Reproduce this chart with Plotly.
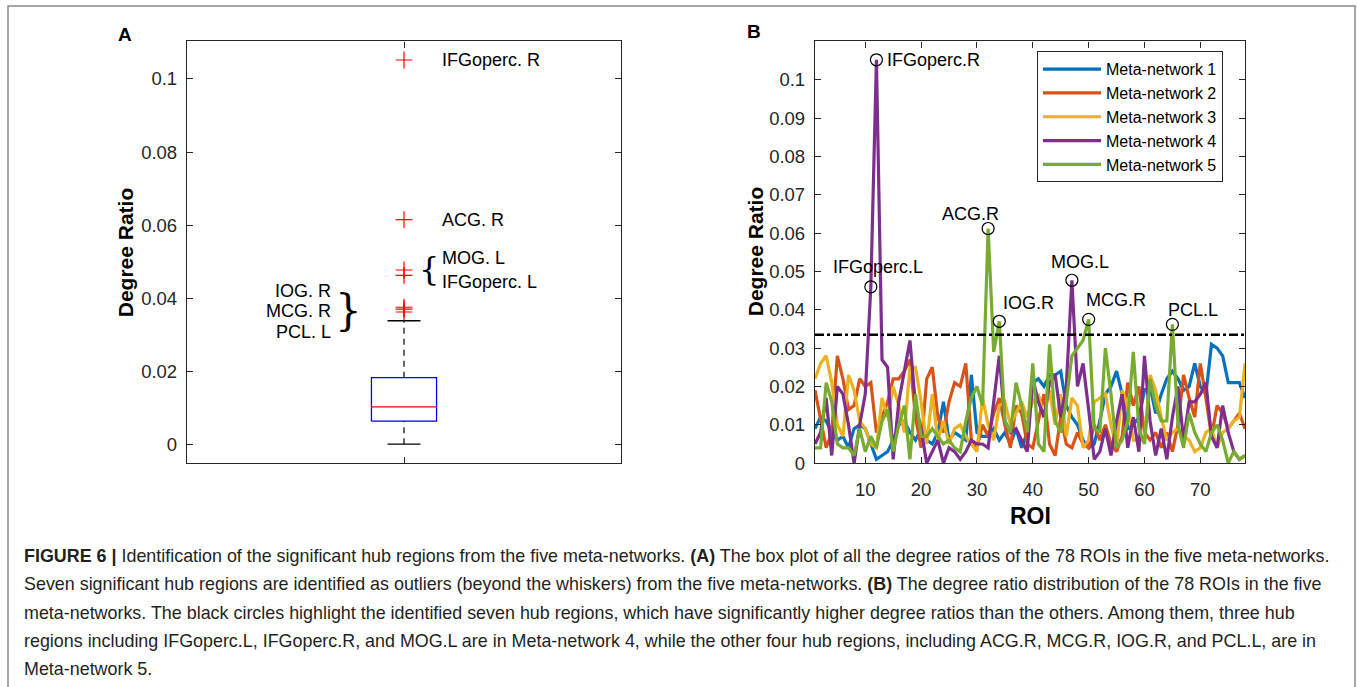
import plotly.graph_objects as go

# ---- data -------------------------------------------------------------
ROI = list(range(1, 79))

MN1 = [0.009, 0.012, 0.011, 0.008, 0.006, 0.007, 0.004, 0.009, 0.010, 0.009,
       0.005, 0.001, 0.002, 0.003, 0.006, 0.010, 0.011, 0.008, 0.006, 0.009,
       0.006, 0.005, 0.008, 0.016, 0.006, 0.008, 0.007, 0.006, 0.023, 0.008,
       0.007, 0.007, 0.009, 0.006, 0.008, 0.005, 0.009, 0.004, 0.008, 0.021,
       0.022, 0.020, 0.023, 0.023, 0.024, 0.015, 0.012, 0.010, 0.006, 0.004,
       0.005, 0.011, 0.018, 0.020, 0.024, 0.018, 0.009, 0.010, 0.012, 0.019,
       0.020, 0.013, 0.018, 0.022, 0.024, 0.022, 0.019, 0.020, 0.026, 0.020,
       0.018, 0.031, 0.030, 0.028, 0.021, 0.021, 0.021, 0.017]
MN2 = [0.019, 0.012, 0.004, 0.008, 0.028, 0.022, 0.014, 0.015, 0.022, 0.020,
       0.021, 0.008, 0.012, 0.016, 0.022, 0.022, 0.024, 0.027, 0.012, 0.004,
       0.022, 0.025, 0.012, 0.008, 0.016, 0.021, 0.020, 0.026, 0.006, 0.004,
       0.010, 0.007, 0.013, 0.017, 0.010, 0.004, 0.015, 0.013, 0.005, 0.004,
       0.011, 0.018, 0.005, 0.002, 0.012, 0.005, 0.004, 0.008, 0.005, 0.004,
       0.010, 0.006, 0.010, 0.005, 0.003, 0.007, 0.021, 0.015, 0.020, 0.008,
       0.006, 0.008, 0.004, 0.008, 0.003, 0.010, 0.023, 0.017, 0.012, 0.026,
       0.017, 0.007, 0.015, 0.013, 0.009, 0.011, 0.013, 0.009]
MN3 = [0.022, 0.026, 0.028, 0.021, 0.010, 0.007, 0.023, 0.019, 0.011, 0.009,
       0.005, 0.004, 0.017, 0.012, 0.020, 0.015, 0.008, 0.025, 0.025, 0.016,
       0.005, 0.018, 0.006, 0.011, 0.005, 0.009, 0.010, 0.007, 0.005, 0.003,
       0.017, 0.010, 0.006, 0.015, 0.016, 0.010, 0.013, 0.016, 0.012, 0.016,
       0.018, 0.012, 0.019, 0.010, 0.018, 0.007, 0.017, 0.015, 0.004, 0.006,
       0.016, 0.017, 0.018, 0.010, 0.004, 0.019, 0.015, 0.006, 0.006, 0.006,
       0.023, 0.019, 0.012, 0.006, 0.008, 0.009, 0.007, 0.006, 0.003, 0.004,
       0.008, 0.009, 0.004, 0.008, 0.009, 0.011, 0.012, 0.026]
MN4 = [0.005, 0.008, 0.017, 0.002, 0.020, 0.018, 0.010, 0.000, 0.010, 0.018,
       0.046, 0.1052, 0.027, 0.025, 0.001, 0.016, 0.024, 0.032, 0.015, 0.009,
       0.000, 0.003, 0.006, 0.000, 0.004, 0.003, 0.001, 0.003, 0.006, 0.005,
       0.005, 0.004, 0.016, 0.028, 0.011, 0.008, 0.009, 0.006, 0.003, 0.022,
       0.016, 0.012, 0.021, 0.023, 0.012, 0.020, 0.0477, 0.020, 0.026, 0.014,
       0.001, 0.003, 0.009, 0.002, 0.011, 0.018, 0.004, 0.012, 0.003, 0.028,
       0.011, 0.002, 0.009, 0.001, 0.012, 0.020, 0.006, 0.016, 0.016, 0.018,
       0.021, 0.007, 0.004, 0.015, 0.008, 0.003, 0.001, 0.002]
MN5 = [0.004, 0.004, 0.021, 0.016, 0.005, 0.004, 0.004, 0.002, 0.009, 0.003,
       0.007, 0.004, 0.011, 0.014, 0.003, 0.010, 0.015, 0.001, 0.018, 0.007,
       0.007, 0.009, 0.007, 0.005, 0.006, 0.004, 0.003, 0.011, 0.017, 0.020,
       0.015, 0.0612, 0.029, 0.037, 0.011, 0.008, 0.021, 0.015, 0.008, 0.026,
       0.005, 0.003, 0.031, 0.011, 0.008, 0.016, 0.028, 0.030, 0.032, 0.0375,
       0.009, 0.008, 0.030, 0.018, 0.004, 0.006, 0.011, 0.029, 0.009, 0.005,
       0.022, 0.015, 0.011, 0.011, 0.0362, 0.010, 0.004, 0.013, 0.008, 0.005,
       0.003, 0.008, 0.010, 0.006, 0.000, 0.003, 0.001, 0.002]

SERIES = [MN1, MN2, MN3, MN4, MN5]
SERIES_NAMES = ['Meta-network 1', 'Meta-network 2', 'Meta-network 3',
                'Meta-network 4', 'Meta-network 5']
COLORS = ['#0072BD', '#D95319', '#EDB120', '#7E2F8E', '#77AC30']

THRESHOLD = 0.0335

# hub regions: label, meta-network index (1-based), ROI
HUB_LABELS = ['IFGoperc.L', 'IFGoperc.R', 'ACG.R', 'IOG.R', 'MOG.L', 'MCG.R', 'PCL.L']
HUB_NETS = [4, 4, 5, 5, 4, 5, 5]
HUB_ROIS = [11, 12, 32, 34, 47, 50, 65]

# box plot summary (panel A)
BOX_LOWER = 0.0
BOX_Q1 = 0.0063
BOX_MEDIAN = 0.0102
BOX_Q3 = 0.0182
BOX_UPPER = 0.0338
OUTLIERS = [0.1052, 0.0615, 0.0477, 0.0462, 0.0375, 0.0370, 0.0362]

A_TICKS = [0, 0.02, 0.04, 0.06, 0.08, 0.1]
B_YTICKS = [0, 0.01, 0.02, 0.03, 0.04, 0.05, 0.06, 0.07, 0.08, 0.09, 0.1]
B_XTICKS = [10, 20, 30, 40, 50, 60, 70]

CAPTION = [
    '<b>FIGURE 6 |</b> Identification of the significant hub regions from the five meta-networks. '
    '<b>(A)</b> The box plot of all the degree ratios of the 78 ROIs in the five meta-networks.',
    'Seven significant hub regions are identified as outliers (beyond the whiskers) from the five '
    'meta-networks. <b>(B)</b> The degree ratio distribution of the 78 ROIs in the five',
    'meta-networks. The black circles highlight the identified seven hub regions, which have '
    'significantly higher degree ratios than the others. Among them, three hub',
    'regions including IFGoperc.L, IFGoperc.R, and MOG.L are in Meta-network 4, while the other '
    'four hub regions, including ACG.R, MCG.R, IOG.R, and PCL.L, are in',
    'Meta-network 5.',
]

# ---- layout helpers ---------------------------------------------------
W, H = 1357, 687
FONT = 'Liberation Sans, Arial, sans-serif'
AXC = '#262626'


def px(x):
    return x / W


def py(y):
    return 1 - y / H


fig = go.Figure()

# ---- panel A: box plot --------------------------------------------------
bw = 0.075   # box half width
cw = 0.038   # cap half width
fig.add_trace(go.Scatter(x=[1 - bw, 1 + bw, 1 + bw, 1 - bw, 1 - bw],
                         y=[BOX_Q1, BOX_Q1, BOX_Q3, BOX_Q3, BOX_Q1],
                         mode='lines', line=dict(color='#0000FF', width=1.3),
                         showlegend=False, hoverinfo='skip'))
fig.add_trace(go.Scatter(x=[1 - bw, 1 + bw], y=[BOX_MEDIAN, BOX_MEDIAN],
                         mode='lines', line=dict(color='#FF0000', width=1.3),
                         showlegend=False, hoverinfo='skip'))
for y0, y1 in [(BOX_Q3, BOX_UPPER), (BOX_LOWER, BOX_Q1)]:
    fig.add_trace(go.Scatter(x=[1, 1], y=[y0, y1], mode='lines',
                             line=dict(color='black', width=1.2, dash='6px,5px'),
                             showlegend=False, hoverinfo='skip'))
for yc in [BOX_UPPER, BOX_LOWER]:
    fig.add_trace(go.Scatter(x=[1 - cw, 1 + cw], y=[yc, yc], mode='lines',
                             line=dict(color='black', width=1.3),
                             showlegend=False, hoverinfo='skip'))
fig.add_trace(go.Scatter(x=[1] * len(OUTLIERS), y=OUTLIERS, mode='markers',
                         marker=dict(symbol='cross-thin', size=12, color='#FF0000',
                                     line=dict(color='#FF0000', width=1.2)),
                         showlegend=False, hoverinfo='skip'))

# ---- panel B: degree ratio lines ---------------------------------------
for vals, name, col in zip(SERIES, SERIES_NAMES, COLORS):
    fig.add_trace(go.Scatter(x=ROI, y=vals, mode='lines', name=name,
                             line=dict(color=col, width=3.2),
                             xaxis='x2', yaxis='y2'))

fig.add_trace(go.Scatter(x=[ROI[0], ROI[-1]], y=[THRESHOLD, THRESHOLD], mode='lines',
                         line=dict(color='black', width=2.5, dash='dashdot'),
                         showlegend=False, xaxis='x2', yaxis='y2', hoverinfo='skip'))

hub_y = [SERIES[n - 1][r - 1] for n, r in zip(HUB_NETS, HUB_ROIS)]
fig.add_trace(go.Scatter(x=HUB_ROIS, y=hub_y, mode='markers',
                         marker=dict(symbol='circle-open', size=12, color='black',
                                     line=dict(color='black', width=1.2)),
                         showlegend=False, xaxis='x2', yaxis='y2', hoverinfo='skip'))

# label offsets (px) for hub labels in panel B
HUB_SHIFT = {
    'IFGoperc.L': ('center', 7, 20),
    'IFGoperc.R': ('left', 9, 0),
    'ACG.R': ('center', -18, 14),
    'IOG.R': ('left', 2, 18),
    'MOG.L': ('center', 8, 18),
    'MCG.R': ('left', -5, 19),
    'PCL.L': ('center', 21, 14),
}
ann = []
for lab, r, yv in zip(HUB_LABELS, HUB_ROIS, hub_y):
    xa, xs, ys = HUB_SHIFT[lab]
    ann.append(dict(x=r, y=yv, xref='x2', yref='y2', text=lab, showarrow=False,
                    xanchor=xa, yanchor='middle', xshift=xs, yshift=ys,
                    font=dict(size=18, color='black')))

# outlier labels in panel A
A_LABELS = [('IFGoperc. R', OUTLIERS[0], 'left', 36, 0),
            ('ACG. R', OUTLIERS[1], 'left', 36, 0),
            ('MOG. L', OUTLIERS[2], 'left', 36, 12),
            ('IFGoperc. L', OUTLIERS[3], 'left', 36, -7),
            ('IOG. R', OUTLIERS[5], 'right', -71, 18),
            ('MCG. R', OUTLIERS[4], 'right', -71, -4),
            ('PCL. L', OUTLIERS[6], 'right', -71, -20)]
for txt, yv, xa, xs, ys in A_LABELS:
    ann.append(dict(x=1, y=yv, xref='x', yref='y', text=txt, showarrow=False,
                    xanchor=xa, yanchor='middle', xshift=xs, yshift=ys,
                    font=dict(size=18, color='black')))
ann.append(dict(x=1, y=(OUTLIERS[2] + OUTLIERS[3]) / 2, xref='x', yref='y', text='{',
                showarrow=False, xanchor='center', yanchor='middle', xshift=25, yshift=4,
                font=dict(size=32, color='black', family='DejaVu Serif, serif')))
ann.append(dict(x=1, y=OUTLIERS[5], xref='x', yref='y', text='}',
                showarrow=False, xanchor='center', yanchor='middle', xshift=-56, yshift=-1,
                font=dict(size=42, color='black', family='DejaVu Serif, serif')))

# panel letters and axis titles
ann += [
    dict(x=px(125), y=py(35), text='<b>A</b>', font=dict(size=19, color='black')),
    dict(x=px(754), y=py(32), text='<b>B</b>', font=dict(size=19, color='black')),
    dict(x=px(125), y=py(256), text='<b>Degree Ratio</b>', textangle=-90,
         font=dict(size=21, color='black')),
    dict(x=px(755), y=py(255), text='<b>Degree Ratio</b>', textangle=-90,
         font=dict(size=21, color='black')),
    dict(x=px(1030), y=py(524), text='<b>ROI</b>', font=dict(size=23, color='black')),
]
for a in ann[-5:]:
    a.update(xref='paper', yref='paper', showarrow=False, xanchor='center', yanchor='middle')

# caption
for i, line in enumerate(CAPTION):
    ann.append(dict(x=px(22), y=py(564 + i * 28.8), xref='paper', yref='paper',
                    text=line, showarrow=False, xanchor='left', yanchor='middle',
                    font=dict(size=17.9, color='#231f20')))

axis_common = dict(showline=True, linecolor=AXC, linewidth=1.3, mirror='ticks',
                   ticks='inside', ticklen=6, tickcolor=AXC, showgrid=False,
                   zeroline=False, tickfont=dict(size=18.5, color='#262626'))

fig.update_layout(
    width=W, height=H, autosize=False,
    margin=dict(l=0, r=0, t=0, b=0),
    paper_bgcolor='white', plot_bgcolor='white',
    font=dict(family=FONT, color='black'),
    xaxis=dict(domain=[px(187), px(621)], range=[0.5, 1.5], tickvals=[1], ticktext=[''],
               anchor='y', ticklabelstandoff=5, **axis_common),
    yaxis=dict(domain=[py(470), py(42)], range=[-0.0052, 0.1103], tickvals=A_TICKS,
               ticktext=['0', '0.02', '0.04', '0.06', '0.08', '0.1'], anchor='x',
               ticklabelstandoff=5, **axis_common),
    xaxis2=dict(domain=[px(815), px(1245)], range=[1, 78], tickvals=B_XTICKS,
                anchor='y2', ticklabelstandoff=9, **axis_common),
    yaxis2=dict(domain=[py(470), py(42)], range=[0, 0.110], tickvals=B_YTICKS,
                ticktext=['0', '0.01', '0.02', '0.03', '0.04', '0.05', '0.06', '0.07',
                          '0.08', '0.09', '0.1'],
                anchor='x2', ticklabelstandoff=5, **axis_common),
    legend=dict(x=px(1037), y=py(52), xanchor='left', yanchor='top',
                bgcolor='white', bordercolor=AXC, borderwidth=1,
                font=dict(size=16, color='black'), itemwidth=58),
    annotations=ann,
    shapes=[dict(type='rect', xref='paper', yref='paper', x0=px(8), x1=px(1355),
                 y0=-0.03, y1=py(6), line=dict(color='#8a8a8a', width=1.5))],
)

# pin the figure to the top-left corner of the page
PIN = ("document.body.style.margin='0';"
       "document.documentElement.style.overflow='hidden';"
       "document.body.style.overflow='hidden';"
       "var d=document.getElementById('{plot_id}');"
       "d.style.position='fixed';d.style.top='0';d.style.left='0';")

fig.write_html("out.html", config={'displayModeBar': False, 'responsive': False},
               post_script=PIN)
